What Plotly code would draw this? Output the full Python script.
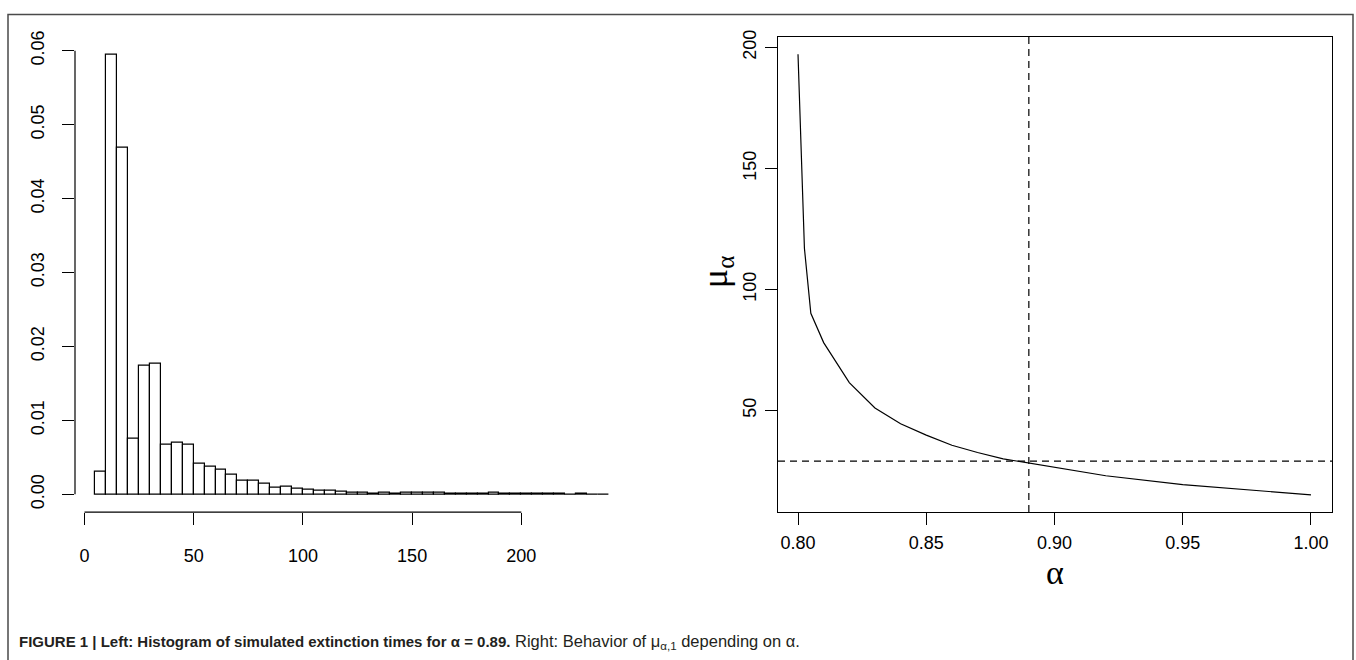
import plotly.graph_objects as go

W, H = 1356, 660

# ---------------- data ----------------
# Left: histogram of simulated extinction times (bin width 5, from 5 to 240)
bin_width = 5
bin_left_edges = list(range(5, 240, 5))
density = [0.00313, 0.0594, 0.0469, 0.0075, 0.0174, 0.01766, 0.00669, 0.00696,
           0.00678, 0.00408, 0.00377, 0.0034, 0.00268, 0.00179, 0.00179, 0.00142,
           0.00087, 0.0010, 0.00072, 0.00062, 0.0005, 0.00045, 0.00032, 0.00028,
           0.00022, 0.00012, 0.00018, 0.00006, 0.00022, 0.00018, 0.00018, 0.00016,
           0.00005, 0.00004, 0.00004, 0.00006, 0.0002, 0.00006, 0.00004, 0.00005,
           0.00003, 0.00004, 0.00003, 0.00002, 0.00003, 0.00002, 0.00002]
hist_xticks = [0, 50, 100, 150, 200]
hist_yticks = [0.00, 0.01, 0.02, 0.03, 0.04, 0.05, 0.06]

# Right: mu_alpha as a function of alpha
alpha = [0.80, 0.8025, 0.805, 0.81, 0.82, 0.83, 0.84, 0.85, 0.86, 0.87, 0.88,
         0.90, 0.92, 0.95, 1.00]
mu = [197.1, 117.0, 90.1, 78.0, 61.5, 51.0, 44.5, 39.8, 35.6, 32.6, 30.0,
      26.5, 23.0, 19.3, 15.1]
alpha_sel = 0.89
mu_sel = 29.0
curve_xticks = [0.80, 0.85, 0.90, 0.95, 1.00]
curve_yticks = [50, 100, 150, 200]

caption_bold = "FIGURE 1 | Left: Histogram of simulated extinction times for α = 0.89."
caption_rest = " Right: Behavior of μ<sub>α,1</sub> depending on α."

# ---------------- helpers ----------------
def fx(px):
    return px / W

def fy(py):
    return 1 - py / H

TICKFONT = dict(family="Liberation Sans, Arial, sans-serif", size=18, color="black")

fig = go.Figure()

bin_centers = [e + bin_width / 2 for e in bin_left_edges]
fig.add_trace(go.Bar(
    x=bin_centers, y=density, width=[bin_width] * len(density),
    marker=dict(color="white", line=dict(color="black", width=1.2)),
    xaxis="x", yaxis="y", showlegend=False, hoverinfo="skip"))

fig.add_trace(go.Scatter(
    x=alpha, y=mu, mode="lines", line=dict(color="black", width=1.2),
    xaxis="x2", yaxis="y2", showlegend=False, hoverinfo="skip"))

ydom = [fy(510.5), fy(30)]

fig.update_layout(
    width=W, height=H,
    margin=dict(l=0, r=0, t=0, b=0),
    paper_bgcolor="white", plot_bgcolor="white",
    bargap=0,
    xaxis=dict(domain=[fx(75), fx(629)], range=[-4.35, 249.3], anchor="y",
               tickvals=hist_xticks, ticks="outside", ticklen=12, tickwidth=1,
               tickcolor="black", showline=False, showgrid=False, zeroline=False,
               tickfont=TICKFONT, ticklabelstandoff=15),
    yaxis=dict(domain=ydom, range=[-0.0024, 0.0619], anchor="x",
               tickvals=hist_yticks, tickformat=".2f", ticks="outside", ticklen=12,
               tickwidth=1, tickcolor="black", showline=False, showgrid=False,
               zeroline=False, tickangle=-90, tickfont=TICKFONT, ticklabelstandoff=11),
    xaxis2=dict(domain=[fx(778), fx(1332)], range=[0.7922, 1.0082], anchor="y2",
                tickvals=curve_xticks, tickformat=".2f", ticks="outside", ticklen=12,
                tickwidth=1, tickcolor="black", showline=True, linecolor="black",
                linewidth=1.2, mirror=True, showgrid=False, zeroline=False,
                tickfont=TICKFONT, ticklabelstandoff=2),
    yaxis2=dict(domain=ydom, range=[7.98, 204.4], anchor="x2",
                tickvals=curve_yticks, ticks="outside", ticklen=12, tickwidth=1,
                tickcolor="black", showline=True, linecolor="black", linewidth=1.2,
                mirror=True, showgrid=False, zeroline=False, tickangle=-90,
                tickfont=TICKFONT, ticklabelstandoff=2),
)

shapes = [
    # histogram axis lines (only between first and last tick, R style)
    dict(type="line", xref="x domain", yref="y", x0=0, x1=0,
         y0=hist_yticks[0], y1=hist_yticks[-1], line=dict(color="black", width=1.2)),
    dict(type="line", xref="x", yref="y domain", x0=hist_xticks[0], x1=hist_xticks[-1],
         y0=0, y1=0, line=dict(color="black", width=1.2)),
    # reference dashed lines
    dict(type="line", xref="x2 domain", yref="y2", x0=0, x1=1, y0=mu_sel, y1=mu_sel,
         line=dict(color="black", width=1.2, dash="7px,5px")),
    dict(type="line", xref="x2", yref="y2 domain", x0=alpha_sel, x1=alpha_sel, y0=0, y1=1,
         line=dict(color="black", width=1.2, dash="7px,5px")),
    # figure frame
    dict(type="rect", xref="paper", yref="paper", x0=fx(8), x1=fx(1353),
         y0=fy(675), y1=fy(7.5), line=dict(color="#4a4a4a", width=1.5),
         fillcolor="rgba(0,0,0,0)", layer="above"),
]
fig.update_layout(shapes=shapes)

cap_text = ('<span style="font-family:\'Liberation Sans Narrow\', \'Arial Narrow\', sans-serif;'
            'font-size:15px"><b>' + caption_bold + '</b></span>'
            '<span style="font-family:\'Liberation Sans\', Arial, sans-serif;font-size:16.5px">'
            + caption_rest + '</span>')

annotations = [
    dict(text="α", xref="paper", yref="paper", x=fx(1055), y=fy(572),
         xanchor="center", yanchor="middle", showarrow=False,
         font=dict(family="Liberation Serif, serif", size=34, color="black")),
    dict(text="μ<sub>α</sub>", xref="paper", yref="paper", x=fx(717), y=fy(268),
         xanchor="center", yanchor="middle", showarrow=False, textangle=-90,
         font=dict(family="Liberation Serif, serif", size=36, color="black")),
    dict(text=cap_text, xref="paper", yref="paper",
         x=fx(17), y=fy(642), xanchor="left", yanchor="middle", showarrow=False,
         font=dict(family="Liberation Sans Narrow, Arial Narrow, sans-serif", size=15,
                   color="#231f20")),
]
fig.update_layout(annotations=annotations)

fig.write_html("out.html",
               config={"displayModeBar": False},
               post_script="document.body.style.margin='0';"
                           "document.body.style.overflow='hidden';")
